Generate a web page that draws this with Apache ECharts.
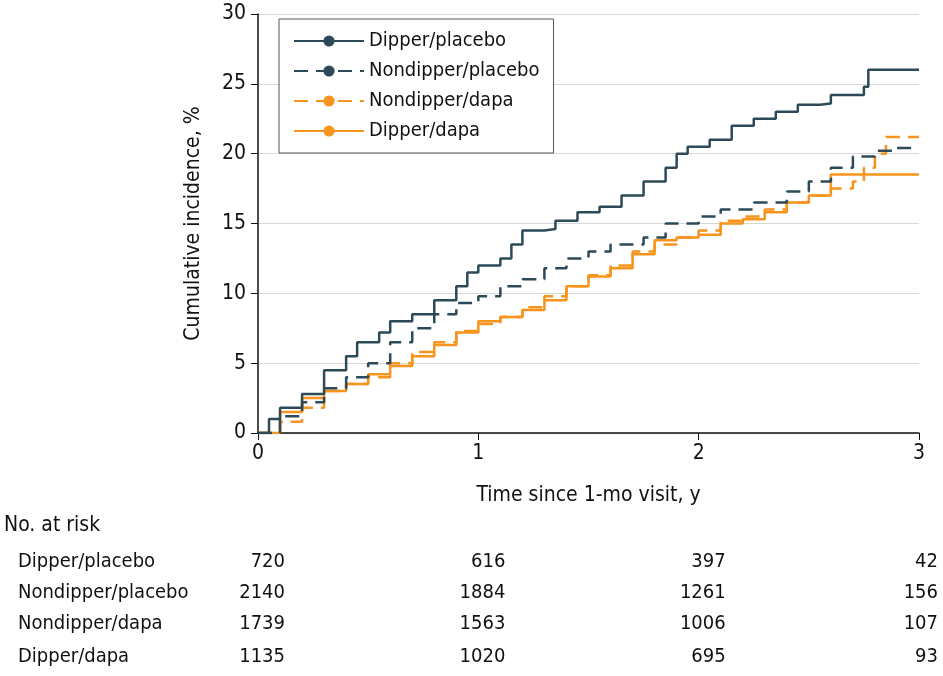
<!DOCTYPE html><html><head><meta charset="utf-8"><script src="https://cdn.jsdelivr.net/npm/echarts@6/dist/echarts.min.js"></script>
<style>body{margin:0}#c{width:943px;height:676px}</style></head><body><div id="c"></div><script>
const seriesNames=["Dipper/placebo","Nondipper/placebo","Nondipper/dapa","Dipper/dapa"];
const dipperPlacebo=[[0,0],[0.05,1],[0.1,1.8],[0.2,2.8],[0.3,4.5],[0.4,5.5],[0.45,6.5],[0.55,7.2],[0.6,8],[0.7,8.5],[0.8,9.5],[0.9,10.5],[0.95,11.5],[1.0,12],[1.1,12.5],[1.15,13.5],[1.2,14.5],[1.3,14.6],[1.35,15.2],[1.45,15.8],[1.55,16.2],[1.65,17],[1.75,18],[1.85,19],[1.9,20],[1.95,20.5],[2.05,21],[2.15,22],[2.25,22.5],[2.35,23],[2.45,23.5],[2.55,23.6],[2.6,24.2],[2.75,24.8],[2.77,26],[3,26]];
const nondipperPlacebo=[[0,0],[0.1,1.2],[0.2,2.2],[0.3,3.2],[0.4,4],[0.5,5],[0.6,6.5],[0.7,7.5],[0.8,8.5],[0.9,9.3],[1.0,9.8],[1.1,10.5],[1.2,11],[1.3,11.8],[1.4,12.5],[1.5,13],[1.6,13.5],[1.75,14],[1.85,15],[2.0,15.5],[2.1,16],[2.25,16.5],[2.4,17.3],[2.5,18],[2.6,19],[2.7,19.8],[2.8,20.2],[2.9,20.4],[3,20.4]];
const nondipperDapa=[[0,0],[0.1,0.8],[0.2,1.8],[0.3,3],[0.4,3.5],[0.5,4],[0.6,5],[0.7,5.8],[0.8,6.5],[0.9,7.3],[1.0,7.8],[1.1,8.3],[1.2,9],[1.3,9.8],[1.4,10.5],[1.5,11.3],[1.6,12],[1.7,13],[1.8,13.5],[1.9,14],[2.0,14.5],[2.1,15.2],[2.2,15.5],[2.3,16],[2.4,16.5],[2.5,17],[2.6,17.5],[2.7,18],[2.75,19],[2.8,20],[2.85,21.2],[3,21.2]];
const dipperDapa=[[0,0],[0.1,1.5],[0.2,2.5],[0.3,3],[0.4,3.5],[0.5,4.2],[0.6,4.8],[0.7,5.5],[0.8,6.3],[0.9,7.2],[1.0,8],[1.1,8.3],[1.2,8.8],[1.3,9.5],[1.4,10.5],[1.5,11.2],[1.6,11.8],[1.7,12.8],[1.8,13.8],[1.9,14],[2.0,14.2],[2.1,15],[2.2,15.3],[2.3,15.8],[2.4,16.5],[2.5,17],[2.6,18.5],[3,18.5]];
const riskTimes=[0,1,2,3];
const riskDipperPlacebo=[720,616,397,42];
const riskNondipperPlacebo=[2140,1884,1261,156];
const riskNondipperDapa=[1739,1563,1006,107];
const riskDipperDapa=[1135,1020,695,93];
const F="DejaVu Sans Condensed";
const teal="#2c4a58", orange="#f7941d";
const datas=[dipperPlacebo,nondipperPlacebo,nondipperDapa,dipperDapa];
const colors=[teal,teal,orange,orange];
const types=["solid",[14,8],[14,8],"solid"];
const ch=echarts.init(document.getElementById('c'));
const opt={animation:false,textStyle:{fontFamily:F},
grid:{left:258,right:24,top:14,bottom:243},
xAxis:{type:'value',min:0,max:3,interval:1,name:'Time since 1-mo visit, y',nameLocation:'middle',nameGap:52,nameTextStyle:{fontSize:21,color:'#111',fontFamily:F},
axisLine:{lineStyle:{color:'#111',width:1.5}},axisTick:{length:7,lineStyle:{color:'#111'}},axisLabel:{fontSize:21,color:'#111',margin:10},splitLine:{show:false}},
yAxis:{type:'value',min:0,max:30,interval:5,name:'Cumulative incidence, %',nameLocation:'middle',nameGap:54,nameTextStyle:{fontSize:21,color:'#111',fontFamily:F},
axisLine:{show:true,lineStyle:{color:'#111',width:1.5}},axisTick:{show:true,length:7,lineStyle:{color:'#111'}},axisLabel:{fontSize:21,color:'#111',margin:12},splitLine:{lineStyle:{color:'#d8d8d8'}}},
legend:{left:279,top:19,orient:'vertical',itemWidth:70,itemHeight:14,itemGap:10,padding:[12,14,12,14],borderColor:'#555',borderWidth:1,backgroundColor:'#fff',
textStyle:{fontSize:20,color:'#111',fontFamily:F},data:seriesNames},
series:datas.map((d,i)=>({name:seriesNames[i],type:'line',step:'end',symbol:'none',data:d,z:10-i,
lineStyle:{color:colors[i],width:2.5,type:types[i]},itemStyle:{color:colors[i]}}))};
ch.setOption(opt);
const rows=[riskDipperPlacebo,riskNondipperPlacebo,riskNondipperDapa,riskDipperDapa];
const rowY=[562,593,624,657];
const g=[{type:'text',x:4,y:526,style:{text:'No. at risk',font:'21px "'+F+'"',fill:'#111',verticalAlign:'middle'}}];
rows.forEach((r,ri)=>{
 g.push({type:'text',x:18,y:rowY[ri],style:{text:seriesNames[ri],font:'20px "'+F+'"',fill:'#111',verticalAlign:'middle'}});
 r.forEach((v,ci)=>{
  const px=ch.convertToPixel({xAxisIndex:0},riskTimes[ci]);
  const rx=ci===3?938:px+27;
  g.push({type:'text',x:rx,y:rowY[ri],style:{text:String(v),font:'20px "'+F+'"',fill:'#111',align:'right',verticalAlign:'middle'}});
 });
});
ch.setOption({graphic:g});
</script></body></html>
